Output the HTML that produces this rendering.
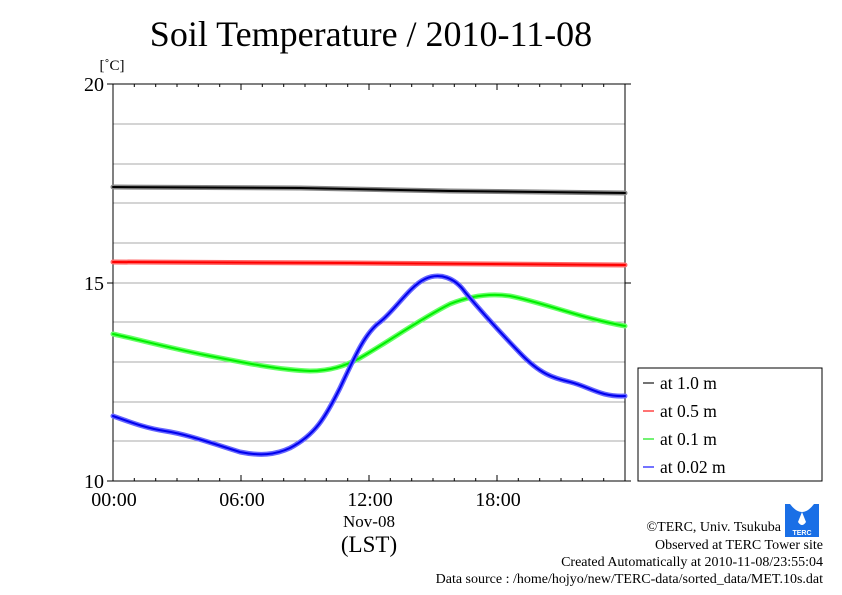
<!DOCTYPE html>
<html><head><meta charset="utf-8"><style>
html,body{margin:0;padding:0;background:#fff;}
svg{display:block;font-family:"Liberation Serif",serif;}
</style></head><body>
<svg width="842" height="595" viewBox="0 0 842 595" xmlns="http://www.w3.org/2000/svg">
<rect width="842" height="595" fill="#fff"/>
<text x="371" y="46" font-size="36" text-anchor="middle">Soil Temperature / 2010-11-08</text>
<text x="112" y="70" font-size="15" text-anchor="middle">[˚C]</text>
<g stroke="#aaa" stroke-width="1">
<line x1="113" x2="625" y1="124" y2="124"/><line x1="113" x2="625" y1="164" y2="164"/>
<line x1="113" x2="625" y1="203" y2="203"/><line x1="113" x2="625" y1="243" y2="243"/>
<line x1="113" x2="625" y1="283" y2="283"/><line x1="113" x2="625" y1="322" y2="322"/>
<line x1="113" x2="625" y1="362" y2="362"/><line x1="113" x2="625" y1="402" y2="402"/>
<line x1="113" x2="625" y1="441" y2="441"/>
</g>
<g stroke="#000" stroke-width="1">
<line x1="113" y1="84" x2="113" y2="481"/><line x1="625" y1="84" x2="625" y2="481"/>
<line x1="113" y1="84" x2="625" y2="84"/><line x1="113" y1="481" x2="625" y2="481"/>
<line x1="107" y1="84" x2="113" y2="84"/><line x1="107" y1="283" x2="113" y2="283"/><line x1="107" y1="481" x2="113" y2="481"/>
<line x1="625" y1="84" x2="631" y2="84"/><line x1="625" y1="283" x2="631" y2="283"/><line x1="625" y1="481" x2="631" y2="481"/>
</g>
<g stroke="#000" stroke-width="1">
<path d="M134.3 84v3M155.7 84v3M177 84v3M198.3 84v3M219.7 84v3M241 84v6M262.3 84v3M283.7 84v3M305 84v3M326.3 84v3M347.7 84v3M369 84v6M390.3 84v3M411.7 84v3M433 84v3M454.3 84v3M475.7 84v3M497 84v6M518.3 84v3M539.7 84v3M561 84v3M582.3 84v3M603.7 84v3"/>
<path d="M134.3 481v-3M155.7 481v-3M177 481v-3M198.3 481v-3M219.7 481v-3M241 481v-6M262.3 481v-3M283.7 481v-3M305 481v-3M326.3 481v-3M347.7 481v-3M369 481v-6M390.3 481v-3M411.7 481v-3M433 481v-3M454.3 481v-3M475.7 481v-3M497 481v-6M518.3 481v-3M539.7 481v-3M561 481v-3M582.3 481v-3M603.7 481v-3"/>
</g>
<g font-size="20" text-anchor="end"><text x="104" y="91">20</text><text x="104" y="290">15</text><text x="104" y="488">10</text></g>
<g font-size="20" text-anchor="middle"><text x="114" y="506">00:00</text><text x="242" y="506">06:00</text><text x="370" y="506">12:00</text><text x="498" y="506">18:00</text>
<text x="369" y="527" font-size="17">Nov-08</text><text x="369" y="552" font-size="23">(LST)</text></g>
<g fill="none" stroke-linecap="round" stroke-linejoin="round">
<path d="M113 187 L300 188 L450 191 L625 193" stroke="#888" stroke-width="5"/>
<path d="M113 187 L300 188 L450 191 L625 193" stroke="#000" stroke-width="2"/>
<path d="M113 262 L350 263 L625 265" stroke="#f66" stroke-width="5"/>
<path d="M113 262 L350 263 L625 265" stroke="#f00" stroke-width="2"/>
<path d="M113 334 C140 340 170 348 205 355 C245 363 280 370 310 371 C330 371 345 366 360 358 C385 344 420 319 450 304 C470 296 490 293 510 296 C545 303 580 318 625 326" stroke="#6f6" stroke-width="5"/>
<path d="M113 334 C140 340 170 348 205 355 C245 363 280 370 310 371 C330 371 345 366 360 358 C385 344 420 319 450 304 C470 296 490 293 510 296 C545 303 580 318 625 326" stroke="#0e0" stroke-width="2"/>
<path d="M113 416 C130 422 145 428 165 431 C185 434 205 441 240 452 C260 456 275 455 290 448 C315 435 325 418 340 388 C355 356 365 333 380 322 C395 310 410 286 425 279 C440 272 455 278 465 292 C480 310 495 327 520 353 C540 374 553 378 570 382 C590 387 600 397 625 396" stroke="#66f" stroke-width="5"/>
<path d="M113 416 C130 422 145 428 165 431 C185 434 205 441 240 452 C260 456 275 455 290 448 C315 435 325 418 340 388 C355 356 365 333 380 322 C395 310 410 286 425 279 C440 272 455 278 465 292 C480 310 495 327 520 353 C540 374 553 378 570 382 C590 387 600 397 625 396" stroke="#00e" stroke-width="2"/>
</g>
<rect x="638" y="368" width="184" height="113" fill="#fff" stroke="#000" stroke-width="1"/>
<g stroke-width="1.5"><line x1="643" x2="654" y1="383" y2="383" stroke="#444"/><line x1="643" x2="654" y1="411" y2="411" stroke="#f44"/><line x1="643" x2="654" y1="439" y2="439" stroke="#4e4"/><line x1="643" x2="654" y1="467" y2="467" stroke="#44f"/></g>
<g font-size="17.5"><text x="660" y="389">at 1.0 m</text><text x="660" y="417">at 0.5 m</text><text x="660" y="445">at 0.1 m</text><text x="660" y="473">at 0.02 m</text></g>
<rect x="785" y="504" width="34" height="33" fill="#1a6fe6"/>
<path d="M790 504 Q802 520 814 504" fill="#fff"/>
<path d="M802 512 L798 522 Q802 528 806 522 Z" fill="#fff"/>
<text x="802" y="535" font-size="7" fill="#fff" text-anchor="middle" font-family="Liberation Sans,sans-serif" font-weight="bold">TERC</text>
<g font-size="14" text-anchor="end"><text x="781" y="531">©TERC, Univ. Tsukuba</text><text x="823" y="549">Observed at TERC Tower site</text><text x="823" y="566">Created Automatically at 2010-11-08/23:55:04</text><text x="823" y="583">Data source : /home/hojyo/new/TERC-data/sorted_data/MET.10s.dat</text></g>
</svg>
</body></html>
